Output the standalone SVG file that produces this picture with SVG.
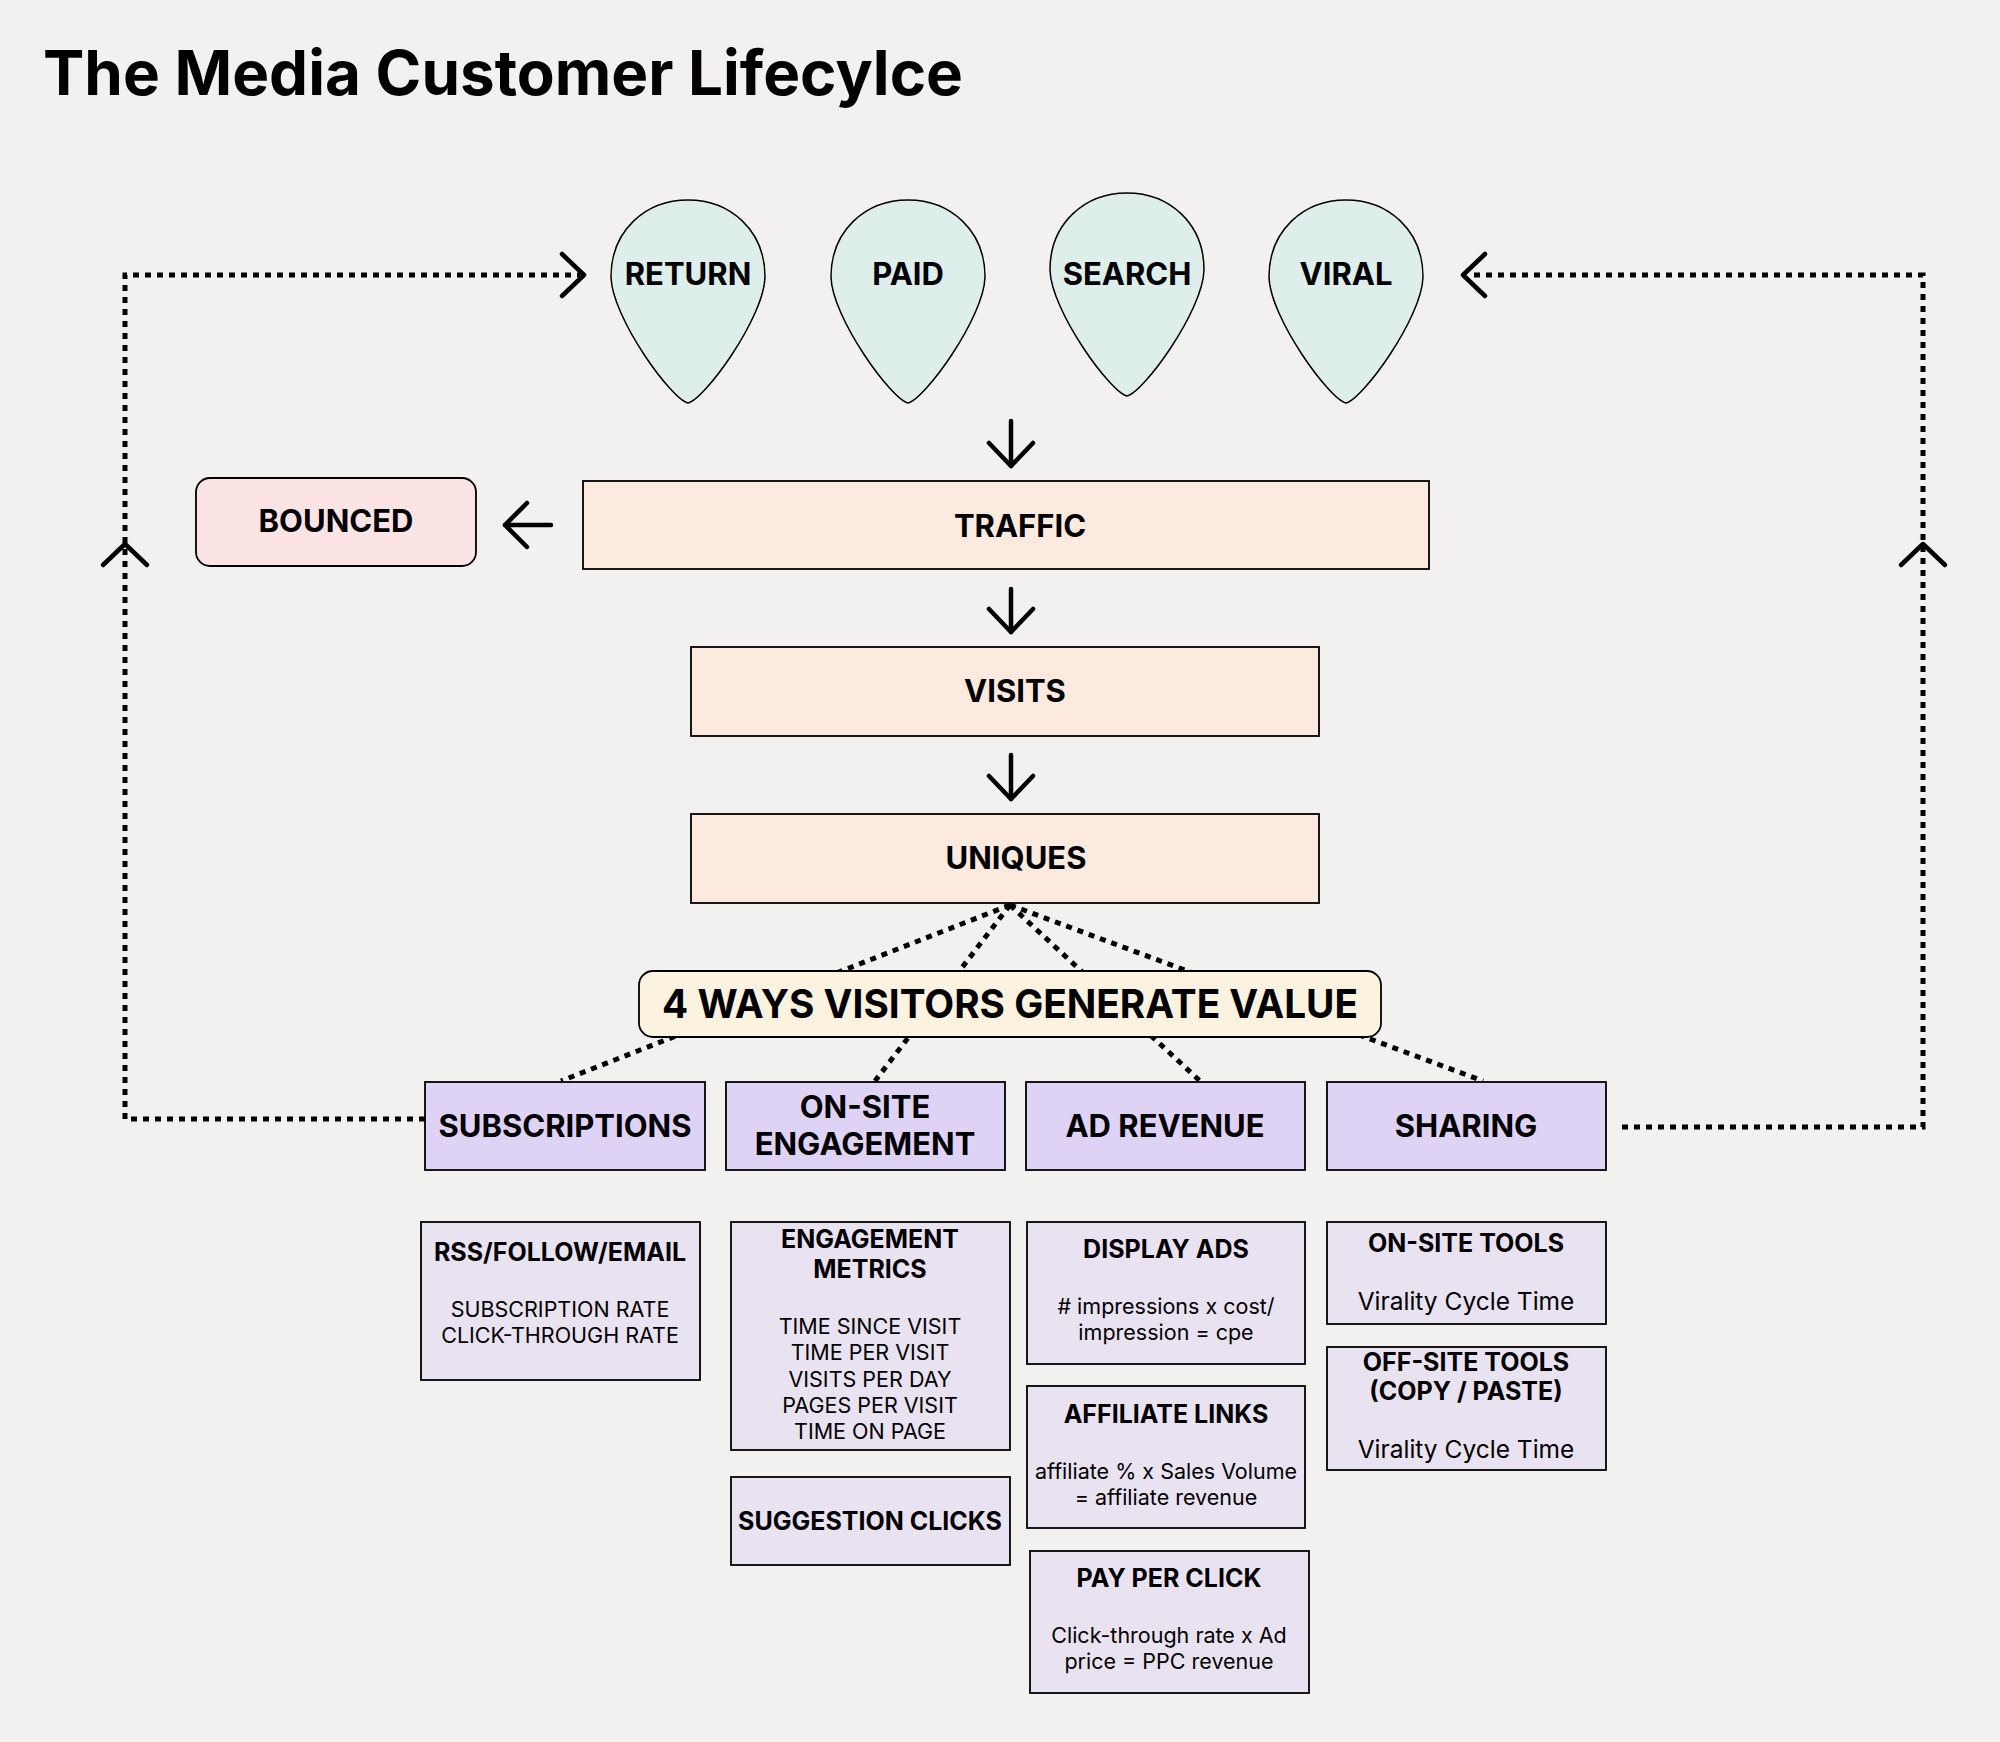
<svg xmlns="http://www.w3.org/2000/svg" width="2000" height="1742" viewBox="0 0 2000 1742">
<defs>
<style>
text{font-family:Inter,"Noto Sans","Liberation Sans",sans-serif;fill:#000;text-anchor:middle}
.t{font-weight:700}
.h{font-size:31px;font-weight:700}
.dt{font-size:25px;font-weight:700}
.db{font-size:21.5px;font-weight:400}
.vt{font-size:24.5px;font-weight:400}
.drop{fill:#DEEEEA;stroke:#000;stroke-width:1.5}
.peach{fill:#FBEADD;stroke:#000;stroke-width:1.8}
.cat{fill:#DFD3F5;stroke:#000;stroke-width:1.8}
.det{fill:#E9E3F1;stroke:#000;stroke-width:1.8}
.sol{fill:none;stroke:#000;stroke-width:4.5;stroke-linecap:round;stroke-linejoin:round}
.dot{fill:none;stroke:#000;stroke-width:5;stroke-dasharray:6 6}
</style>
<path id="dropShape" d="M0,203 C-16,200 -76,118 -77,77 C-77,30 -42,0 0,0 C42,0 77,30 77,77 C76,118 16,200 0,203 Z"/>
</defs>
<rect width="2000" height="1742" fill="#F2F1EF"/>
<text x="43" y="95" class="t" style="font-size:62px;text-anchor:start" textLength="920" lengthAdjust="spacingAndGlyphs">The Media Customer Lifecylce</text>

<g id="connectors">
<path class="dot" d="M425,1119 H125 V275 H580"/>
<polyline class="sol" points="562,254 584,275 562,296"/>
<polyline class="sol" points="103,565 125,544 147,565"/>
<path class="dot" d="M1622,1127 H1923 V275 H1468"/>
<polyline class="sol" points="1485,254 1463,275 1485,296"/>
<polyline class="sol" points="1901,565 1923,544 1945,565"/>
<line class="sol" x1="1011" y1="421" x2="1011" y2="466"/>
<polyline class="sol" points="989,443 1011,466 1033,443"/>
<line class="sol" x1="1011" y1="589" x2="1011" y2="632"/>
<polyline class="sol" points="989,609 1011,632 1033,609"/>
<line class="sol" x1="1011" y1="755" x2="1011" y2="799"/>
<polyline class="sol" points="989,776 1011,799 1033,776"/>
<line class="sol" x1="551" y1="525" x2="505" y2="525"/>
<polyline class="sol" points="527,503 505,525 527,547"/>
<line class="dot" x1="1010" y1="905" x2="561" y2="1081"/>
<line class="dot" x1="1010" y1="905" x2="875" y2="1081"/>
<line class="dot" x1="1010" y1="905" x2="1200" y2="1081"/>
<line class="dot" x1="1010" y1="905" x2="1483" y2="1081"/>
</g>

<g id="return"><use href="#dropShape" class="drop" transform="translate(688,200)"/><text x="688" y="285" class="h">RETURN</text></g>
<g id="paid"><use href="#dropShape" class="drop" transform="translate(908,200)"/><text x="908" y="285" class="h">PAID</text></g>
<g id="search"><use href="#dropShape" class="drop" transform="translate(1127,193)"/><text x="1127" y="285" class="h">SEARCH</text></g>
<g id="viral"><use href="#dropShape" class="drop" transform="translate(1346,200)"/><text x="1346" y="285" class="h">VIRAL</text></g>

<g id="bounced"><rect x="196" y="478" width="280" height="88" rx="14" fill="#FBE4E3" stroke="#000" stroke-width="1.8"/><text x="336" y="532" class="h">BOUNCED</text></g>
<g id="traffic"><rect x="583" y="481" width="846" height="88" class="peach"/><text x="1020" y="537" class="h">TRAFFIC</text></g>
<g id="visits"><rect x="691" y="647" width="628" height="89" class="peach"/><text x="1015" y="702" class="h">VISITS</text></g>
<g id="uniques"><rect x="691" y="814" width="628" height="89" class="peach"/><text x="1016" y="869" class="h">UNIQUES</text></g>

<g id="four-ways"><rect x="639" y="971" width="742" height="66" rx="14" fill="#FBF3DF" stroke="#000" stroke-width="1.8"/><text x="1010" y="1018" class="t" style="font-size:40px" textLength="696" lengthAdjust="spacingAndGlyphs">4 WAYS VISITORS GENERATE VALUE</text></g>

<g id="subscriptions"><rect x="425" y="1082" width="280" height="88" class="cat"/><text x="565" y="1137" class="h">SUBSCRIPTIONS</text></g>
<g id="onsite"><rect x="726" y="1082" width="279" height="88" class="cat"/><text x="865" y="1118" class="h">ON-SITE</text><text x="865" y="1155" class="h">ENGAGEMENT</text></g>
<g id="adrevenue"><rect x="1026" y="1082" width="279" height="88" class="cat"/><text x="1165" y="1137" class="h">AD REVENUE</text></g>
<g id="sharing"><rect x="1327" y="1082" width="279" height="88" class="cat"/><text x="1466" y="1137" class="h">SHARING</text></g>

<g id="rss"><rect x="421" y="1222" width="279" height="158" class="det"/><text x="560" y="1261" class="dt">RSS/FOLLOW/EMAIL</text><text x="560" y="1317" class="db">SUBSCRIPTION RATE</text><text x="560" y="1343" class="db">CLICK-THROUGH RATE</text></g>
<g id="engagement-metrics"><rect x="731" y="1222" width="279" height="228" class="det"/><text x="870" y="1248" class="dt">ENGAGEMENT</text><text x="870" y="1278" class="dt">METRICS</text><text x="870" y="1334" class="db">TIME SINCE VISIT</text><text x="870" y="1360" class="db">TIME PER VISIT</text><text x="870" y="1387" class="db">VISITS PER DAY</text><text x="870" y="1413" class="db">PAGES PER VISIT</text><text x="870" y="1439" class="db">TIME ON PAGE</text></g>
<g id="suggestion-clicks"><rect x="731" y="1477" width="279" height="88" class="det"/><text x="870" y="1530" class="dt">SUGGESTION CLICKS</text></g>
<g id="display-ads"><rect x="1027" y="1222" width="278" height="142" class="det"/><text x="1166" y="1258" class="dt">DISPLAY ADS</text><text x="1166" y="1314" class="db"># impressions x cost/</text><text x="1166" y="1340" class="db">impression = cpe</text></g>
<g id="affiliate-links"><rect x="1027" y="1386" width="278" height="142" class="det"/><text x="1166" y="1423" class="dt">AFFILIATE LINKS</text><text x="1166" y="1479" class="db">affiliate % x Sales Volume</text><text x="1166" y="1505" class="db">= affiliate revenue</text></g>
<g id="pay-per-click"><rect x="1030" y="1551" width="279" height="142" class="det"/><text x="1169" y="1587" class="dt">PAY PER CLICK</text><text x="1169" y="1643" class="db">Click-through rate x Ad</text><text x="1169" y="1669" class="db">price = PPC revenue</text></g>
<g id="onsite-tools"><rect x="1327" y="1222" width="279" height="102" class="det"/><text x="1466" y="1252" class="dt">ON-SITE TOOLS</text><text x="1466" y="1310" class="vt">Virality Cycle Time</text></g>
<g id="offsite-tools"><rect x="1327" y="1347" width="279" height="123" class="det"/><text x="1466" y="1371" class="dt">OFF-SITE TOOLS</text><text x="1466" y="1400" class="dt">(COPY / PASTE)</text><text x="1466" y="1458" class="vt">Virality Cycle Time</text></g>
</svg>
